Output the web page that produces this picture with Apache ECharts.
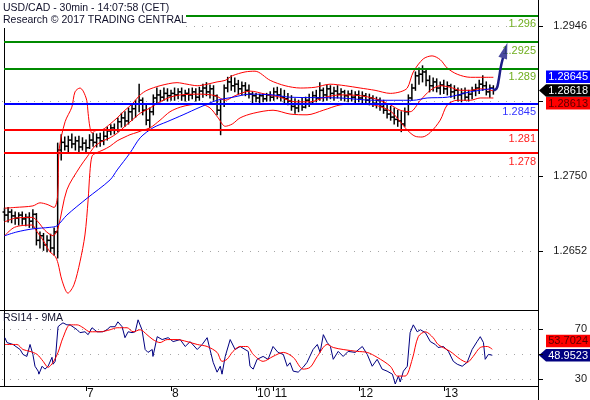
<!DOCTYPE html>
<html><head><meta charset="utf-8">
<script src="https://cdn.jsdelivr.net/npm/echarts@6/dist/echarts.min.js"></script>
<style>html,body{margin:0;padding:0;background:#fff;}#c{width:590px;height:400px;}</style>
</head><body><div id="c"></div>
<script>
// ---- data (hourly bars; x = hours since first bar) ----
const dayTickHours = [23, 47, 71, 76, 100, 124];
const dayTickLabels = ['7', '8', '10', '11', '12', '13'];

const barOpen = [
1.2703,1.2699,1.2703,1.2698,1.2695,1.2699,1.2694,1.2696,1.2691,1.2700,
1.2666,1.2672,1.2660,1.2666,1.2656,1.2677,1.2784,1.2794,1.2789,1.2797,
1.2792,1.2796,1.2788,1.2793,1.2787,1.2797,1.2794,1.2800,1.2796,1.2802,
1.2809,1.2813,1.2810,1.2821,1.2826,1.2822,1.2834,1.2838,1.2844,1.2849,
1.2836,1.2823,1.2834,1.2852,1.2856,1.2853,1.2858,1.2855,1.2858,1.2856,
1.2860,1.2855,1.2858,1.2856,1.2860,1.2853,1.2861,1.2865,1.2860,1.2864,
1.2855,1.2836,1.2844,1.2865,1.2873,1.2868,1.2870,1.2864,1.2868,1.2862,
1.2857,1.2855,1.2852,1.2855,1.2851,1.2856,1.2853,1.2860,1.2856,1.2853,
1.2851,1.2848,1.2841,1.2839,1.2844,1.2840,1.2849,1.2845,1.2855,1.2852,
1.2862,1.2856,1.2864,1.2858,1.2861,1.2857,1.2860,1.2855,1.2857,1.2853,
1.2856,1.2852,1.2855,1.2849,1.2852,1.2845,1.2849,1.2841,1.2836,1.2831,
1.2827,1.2824,1.2822,1.2818,1.2834,1.2852,1.2865,1.2881,1.2883,1.2886,
1.2875,1.2868,1.2873,1.2865,1.2869,1.2864,1.2868,1.2860,1.2862,1.2856,
1.2858,1.2853,1.2857,1.2862,1.2865,1.2870,1.2868,1.2860,1.2865];
const barHigh = [
1.2708,1.2709,1.2706,1.2703,1.2702,1.2703,1.2700,1.2702,1.2706,1.2701,
1.2677,1.2675,1.2672,1.2674,1.2682,1.2793,1.2804,1.2801,1.2802,1.2805,
1.2801,1.2802,1.2800,1.2797,1.2804,1.2806,1.2805,1.2806,1.2808,1.2814,
1.2817,1.2818,1.2826,1.2832,1.2834,1.2839,1.2843,1.2849,1.2870,1.2852,
1.2843,1.2839,1.2856,1.2865,1.2862,1.2865,1.2864,1.2862,1.2865,1.2864,
1.2865,1.2862,1.2864,1.2865,1.2864,1.2866,1.2870,1.2872,1.2869,1.2868,
1.2856,1.2849,1.2869,1.2879,1.2881,1.2878,1.2875,1.2873,1.2872,1.2869,
1.2860,1.2858,1.2857,1.2857,1.2858,1.2860,1.2865,1.2866,1.2864,1.2862,
1.2858,1.2855,1.2851,1.2849,1.2852,1.2853,1.2857,1.2860,1.2862,1.2872,
1.2865,1.2869,1.2868,1.2866,1.2868,1.2864,1.2862,1.2861,1.2862,1.2860,
1.2861,1.2860,1.2858,1.2857,1.2855,1.2853,1.2852,1.2849,1.2844,1.2841,
1.2839,1.2836,1.2834,1.2839,1.2856,1.2870,1.2886,1.2891,1.2894,1.2889,
1.2881,1.2878,1.2877,1.2873,1.2875,1.2873,1.2870,1.2868,1.2865,1.2864,
1.2865,1.2862,1.2866,1.2870,1.2875,1.2881,1.2873,1.2869,1.2868];
const barLow = [
1.2692,1.2690,1.2689,1.2687,1.2686,1.2687,1.2685,1.2683,1.2682,1.2660,
1.2656,1.2653,1.2651,1.2651,1.2647,1.2643,1.2771,1.2784,1.2781,1.2787,
1.2784,1.2781,1.2784,1.2781,1.2786,1.2789,1.2788,1.2789,1.2791,1.2797,
1.2804,1.2805,1.2808,1.2814,1.2815,1.2818,1.2823,1.2827,1.2834,1.2830,
1.2817,1.2813,1.2830,1.2844,1.2847,1.2849,1.2848,1.2849,1.2849,1.2851,
1.2849,1.2848,1.2849,1.2851,1.2848,1.2849,1.2853,1.2855,1.2852,1.2849,
1.2830,1.2804,1.2841,1.2860,1.2862,1.2860,1.2857,1.2856,1.2855,1.2852,
1.2845,1.2847,1.2845,1.2847,1.2848,1.2848,1.2849,1.2851,1.2848,1.2845,
1.2843,1.2836,1.2832,1.2834,1.2836,1.2839,1.2841,1.2844,1.2847,1.2849,
1.2848,1.2849,1.2851,1.2849,1.2852,1.2849,1.2848,1.2847,1.2848,1.2845,
1.2847,1.2845,1.2844,1.2843,1.2841,1.2839,1.2836,1.2832,1.2826,1.2823,
1.2818,1.2815,1.2808,1.2815,1.2830,1.2849,1.2862,1.2870,1.2873,1.2868,
1.2860,1.2861,1.2860,1.2857,1.2858,1.2856,1.2853,1.2851,1.2848,1.2847,
1.2849,1.2848,1.2851,1.2855,1.2858,1.2862,1.2856,1.2853,1.2857];
const barClose = [
1.2699,1.2703,1.2698,1.2695,1.2699,1.2694,1.2696,1.2691,1.2700,1.2666,
1.2672,1.2660,1.2666,1.2656,1.2677,1.2784,1.2794,1.2789,1.2797,1.2792,
1.2796,1.2788,1.2793,1.2787,1.2797,1.2794,1.2800,1.2796,1.2802,1.2809,
1.2813,1.2810,1.2821,1.2826,1.2822,1.2834,1.2838,1.2844,1.2849,1.2836,
1.2823,1.2834,1.2852,1.2856,1.2853,1.2858,1.2855,1.2858,1.2856,1.2860,
1.2855,1.2858,1.2856,1.2860,1.2853,1.2861,1.2865,1.2860,1.2864,1.2855,
1.2836,1.2844,1.2865,1.2873,1.2868,1.2870,1.2864,1.2868,1.2862,1.2857,
1.2855,1.2852,1.2855,1.2851,1.2856,1.2853,1.2860,1.2856,1.2853,1.2851,
1.2848,1.2841,1.2839,1.2844,1.2840,1.2849,1.2845,1.2855,1.2852,1.2862,
1.2856,1.2864,1.2858,1.2861,1.2857,1.2860,1.2855,1.2857,1.2853,1.2856,
1.2852,1.2855,1.2849,1.2852,1.2845,1.2849,1.2841,1.2836,1.2831,1.2827,
1.2824,1.2822,1.2818,1.2834,1.2852,1.2865,1.2881,1.2883,1.2886,1.2875,
1.2868,1.2873,1.2865,1.2869,1.2864,1.2868,1.2860,1.2862,1.2856,1.2858,
1.2853,1.2857,1.2862,1.2865,1.2870,1.2868,1.2860,1.2865,1.28618];

// Bollinger bands and moving average, read as [hour, price]
const bbUpper = [[0,1.2708],[3,1.2709],[8,1.2711],[10,1.2715],[12,1.2713],[14,1.2709],[15,1.2725],[15.4,1.2784],[17.1,1.2821],[19,1.2840],[19.9,1.2860],[21.3,1.2865],[22.2,1.2861],[23.2,1.2849],[23.6,1.2832],[24.1,1.2814],[24.7,1.2806],[25.5,1.2809],[27.8,1.2811],[29.8,1.2818],[31.8,1.2826],[34,1.2836],[36,1.2844],[38.3,1.2856],[40.2,1.2862],[43.9,1.2868],[48.7,1.2872],[51.5,1.2870],[54.4,1.2868],[57.2,1.2870],[60,1.2873],[62.3,1.2875],[64.3,1.2881],[67.9,1.2886],[70.7,1.2887],[75,1.2875],[79.2,1.2868],[83.5,1.2865],[87.7,1.2866],[91.9,1.2870],[96.2,1.2868],[100.4,1.2865],[104.6,1.2862],[108.9,1.2858],[111.7,1.2860],[113.7,1.2865],[115.4,1.2886],[118.2,1.2903],[120.7,1.2907],[123,1.2902],[125,1.2891],[127.8,1.2883],[131.5,1.2879],[134.3,1.2879],[138,1.2879]];
const bbMiddle = [[0,1.2690],[3,1.2695],[7.8,1.2696],[9.5,1.2690],[11.4,1.2679],[13.7,1.2672],[15.1,1.2682],[17.6,1.2732],[21.3,1.2762],[23.3,1.2775],[25.5,1.2789],[27.8,1.2796],[29.8,1.2800],[31.8,1.2806],[34,1.2815],[36,1.2823],[38.3,1.2832],[41.1,1.2839],[43.9,1.2847],[46.7,1.2853],[49.6,1.2856],[55.2,1.2857],[59.5,1.2855],[62.3,1.2849],[65.1,1.2855],[69.3,1.2861],[73.6,1.2857],[77.8,1.2853],[82,1.2847],[86.3,1.2847],[90.5,1.2853],[94.8,1.2856],[100.4,1.2855],[104.6,1.2851],[108.9,1.2843],[111.7,1.2836],[114.5,1.2834],[117.4,1.2849],[120.2,1.2862],[123,1.2868],[125.8,1.2866],[128.7,1.2862],[131.5,1.2862],[134.3,1.2864],[138,1.28613]];
const bbLower = [[0,1.2672],[2.4,1.2682],[4.4,1.2685],[7.8,1.2686],[8.9,1.2679],[10.9,1.2666],[12.8,1.2651],[14.3,1.2645],[15.1,1.2636],[16.2,1.2614],[17.9,1.2597],[19.6,1.2608],[21.3,1.2638],[22.7,1.2673],[23.6,1.2719],[24.1,1.2755],[24.7,1.2776],[25.8,1.2780],[27.8,1.2784],[29.8,1.2789],[31.8,1.2796],[34,1.2801],[35.4,1.2804],[37.4,1.2807],[39.1,1.2810],[41.1,1.2813],[43.9,1.2823],[46.7,1.2834],[49.6,1.2840],[52.4,1.2843],[55.2,1.2844],[58,1.2839],[60.3,1.2826],[62.3,1.2815],[64.3,1.2818],[66.5,1.2826],[70.2,1.2832],[75.8,1.2836],[80.6,1.2831],[85.4,1.2830],[90,1.2836],[94.8,1.2843],[99,1.2844],[104.1,1.2843],[108.9,1.2835],[111.7,1.2821],[113.7,1.2810],[115.9,1.2802],[117.9,1.2801],[120.2,1.2807],[123,1.2823],[125,1.2843],[127.8,1.2849],[131.5,1.2849],[134.3,1.2852],[138,1.2852]];
const maBlue = [[0,1.2672],[3.5,1.2677],[8,1.2681],[12.8,1.2683],[14.8,1.2685],[17.6,1.2699],[23.3,1.2721],[29.8,1.2745],[31.8,1.2758],[35.4,1.2780],[38.3,1.2800],[41.9,1.2813],[45.9,1.2821],[50.4,1.2830],[55.2,1.2840],[60,1.2849],[64.5,1.2853],[69.3,1.2857],[75.8,1.2856],[80.6,1.2853],[94.8,1.2852],[104.1,1.2849],[115.4,1.2849],[119.3,1.2852],[125,1.2853],[131.5,1.2860],[138,1.28645]];

// RSI(14) and its 9-period MA, read as [hour, value]
const rsi14 = [[0.1,62.9],[0.7,59.0],[2.4,57.5],[4.4,53.5],[5.2,49.6],[6.3,48.0],[7.2,57.5],[8.0,49.6],[8.6,40.2],[9.5,36.3],[9.7,33.9],[10.6,40.2],[11.4,37.9],[12.3,40.2],[13.4,47.3],[13.7,41.8],[14.3,44.1],[15.1,71.6],[15.7,73.1],[16.5,74.7],[17.6,73.1],[18.5,73.1],[20.5,69.2],[21.3,66.9],[22.7,67.6],[23.6,65.3],[24.7,70.8],[26.1,67.6],[27.8,67.6],[28.9,69.2],[29.8,71.6],[31.2,71.6],[32.0,75.5],[33.2,71.6],[34.0,62.9],[34.9,67.6],[36.0,66.9],[36.9,67.6],[37.7,77.1],[38.8,69.2],[39.7,53.5],[40.5,51.2],[41.7,53.5],[41.9,48.0],[43.1,63.7],[44.5,61.4],[46.2,62.9],[47.6,59.8],[49.6,61.4],[51.0,55.9],[52.4,59.8],[54.4,53.5],[55.8,57.5],[57.2,62.9],[58.0,53.5],[58.9,43.3],[60.0,35.5],[60.9,40.2],[61.4,33.9],[62.3,48.0],[63.7,61.4],[65.1,53.5],[66.5,55.9],[68.8,52.0],[69.3,40.2],[70.2,37.9],[71.3,45.7],[73.0,48.0],[74.4,45.7],[75.8,55.9],[77.2,51.2],[78.7,49.6],[79.8,40.2],[80.6,43.0],[81.5,36.3],[82.9,35.5],[84.3,39.4],[85.4,43.3],[87.1,53.5],[88.3,57.5],[89.1,51.2],[90.0,65.3],[91.1,59.0],[92.0,55.9],[92.8,45.7],[94.2,52.0],[95.6,48.0],[97.0,52.0],[99.0,51.2],[101.0,55.9],[102.4,49.6],[103.8,40.2],[105.2,45.7],[106.6,37.9],[108.0,36.3],[109.5,33.9],[110.3,26.1],[111.2,32.4],[111.7,27.7],[112.6,36.3],[113.7,40.2],[114.5,66.9],[115.4,73.1],[116.5,67.6],[117.4,69.2],[118.8,66.9],[120.2,59.8],[121.6,57.5],[122.4,55.1],[123.9,55.9],[125.3,52.0],[126.7,44.1],[127.8,41.8],[129.2,40.2],[130.6,43.3],[132.0,53.5],[133.4,59.8],[134.3,63.7],[135.2,59.0],[135.7,45.7],[136.6,49.6],[137.7,48.9523]];
const rsiMA9 = [[0.1,57.5],[3.5,57.5],[5.2,53.5],[7.2,52.0],[9.2,49.6],[10.9,44.1],[12.3,39.4],[13.7,43.3],[15.1,51.2],[16.5,62.9],[18.5,73.1],[20.5,73.1],[22.2,70.8],[24.1,67.6],[27.0,67.6],[29.8,69.2],[31.8,70.8],[34.6,70.8],[36.3,67.6],[38.3,69.2],[40.2,65.3],[41.9,61.4],[43.9,59.0],[45.9,61.4],[48.7,61.4],[51.5,59.8],[54.4,57.5],[57.2,55.9],[60.0,51.2],[61.4,44.1],[62.8,45.7],[64.5,52.0],[66.5,55.9],[68.5,55.9],[70.2,49.6],[73.0,44.1],[75.8,48.0],[78.7,51.2],[81.5,47.3],[84.3,37.9],[86.3,39.4],[88.3,48.0],[91.1,57.5],[92.8,55.1],[95.6,53.5],[99.6,52.0],[102.4,51.2],[105.2,47.3],[108.9,40.2],[110.9,32.4],[113.1,32.4],[115.1,45.7],[116.8,63.7],[118.8,67.6],[121.0,62.9],[122.4,57.5],[125.8,52.0],[128.7,45.7],[130.6,43.3],[132.3,48.0],[134.3,55.1],[136.3,55.9],[137.7,53.7024]];

// support / resistance levels
const levels = [1.296, 1.2925, 1.289, 1.2845, 1.281, 1.278];
const levelLabels = ['1.296', '1.2925', '1.289', '1.2845', '1.281', '1.278'];
const levelKinds = ['g', 'g', 'g', 'b', 'r', 'r'];

// projected path arrow [hour, price]
const arrowPath = [[137.9,1.28624],[138.9,1.28643],[139.5,1.28754],[140.1,1.28924],[140.7,1.29042]];
const arrowHead = [[141.3,1.2914]];

const priceTicks = [1.2652, 1.2750, 1.2848, 1.2946];
const priceLabels = [1.2652, 1.2750, 1.2946];
const rsiTicks = [30, 50, 70];
const rsiLabels = [30, 70];

const lastPrice = 1.28618, lastMA = 1.28645, lastMid = 1.28613;
const lastRsi = 48.9523, lastRsiMA = 53.7024;

// ---- chart ----
const FONT = 'Liberation Sans, Arial, sans-serif';
const xMin = -1.28, xMax = 150.6, xStart = -0.15;
const chart = echarts.init(document.getElementById('c'), null, {renderer: 'canvas'});

const levelColors = {g: ['#008a00', '#6fae1e'], b: ['#0000ff', '#3535ff'], r: ['#ff0000', '#ff2020']};

function renderOHLC(params, api) {
  const x = api.value(0);
  const o = api.coord([x, api.value(1)]);
  const h = api.coord([x, api.value(2)]);
  const l = api.coord([x, api.value(3)]);
  const c = api.coord([x, api.value(4)]);
  const style = {stroke: '#000', lineWidth: 1.5};
  return {type: 'group', children: [
    {type: 'line', shape: {x1: h[0], y1: h[1] - 0.5, x2: l[0], y2: l[1] + 0.5}, style},
    {type: 'line', shape: {x1: o[0] - 2, y1: o[1], x2: o[0], y2: o[1]}, style},
    {type: 'line', shape: {x1: c[0], y1: c[1], x2: c[0] + 2, y2: c[1]}, style}
  ]};
}

// dotted horizontal grid line at a tick value (dots every 8 px) plus the outer tick mark
function renderDots(params, api) {
  const y = Math.round(api.coord([xMin, api.value(0)])[1]);
  const cs = params.coordSys;
  const children = [];
  for (let px = cs.x + 2; px < cs.x + cs.width - 2; px += 8) {
    children.push({type: 'rect', shape: {x: px, y: y, width: 1, height: 1}, style: {fill: '#a6a6a6'}});
  }
  children.push({type: 'rect', shape: {x: cs.x + cs.width, y: y, width: 5, height: 1}, style: {fill: '#000'}});
  return {type: 'group', children};
}

const option = {
  animation: false,
  backgroundColor: '#fff',
  textStyle: {fontFamily: FONT},
  grid: [
    {left: 0, width: 538, top: 0, height: 310},
    {left: 0, width: 538, top: 310, height: 77}
  ],
  xAxis: [
    {gridIndex: 0, type: 'value', min: xMin, max: xMax,
     axisLine: {show: true, onZero: false, lineStyle: {color: '#000', width: 1}},
     axisTick: {show: false}, axisLabel: {show: false}, splitLine: {show: false}},
    {gridIndex: 1, type: 'value', min: xMin, max: xMax,
     axisLine: {show: true, onZero: false, lineStyle: {color: '#000', width: 1}},
     axisTick: {show: true, customValues: dayTickHours, length: 5, lineStyle: {color: '#000'}},
     axisLabel: {show: true, customValues: dayTickHours, align: 'left', margin: 2,
       padding: [0, 0, 0, 1], fontSize: 12, color: '#111', fontFamily: FONT,
       formatter: v => { const i = dayTickHours.indexOf(v); return i >= 0 ? dayTickLabels[i] : ''; }},
     splitLine: {show: false}}
  ],
  yAxis: [
    {gridIndex: 0, type: 'value', position: 'right', min: 1.2575, max: 1.2980,
     axisLine: {show: true, lineStyle: {color: '#000'}},
     axisTick: {show: false},
     axisLabel: {show: true, customValues: priceLabels, align: 'right', margin: 49, fontSize: 11,
       color: '#1a1a1a', fontFamily: FONT, formatter: v => v.toFixed(4)},
     splitLine: {show: false}},
    {gridIndex: 1, type: 'value', position: 'right', min: 24.5, max: 84.9,
     axisLine: {show: true, lineStyle: {color: '#000'}},
     axisTick: {show: false},
     axisLabel: {show: true, customValues: rsiLabels, align: 'right', margin: 49, fontSize: 11,
       color: '#1a1a1a', fontFamily: FONT, formatter: v => String(v)},
     splitLine: {show: false}}
  ],
  series: [
    {name: 'priceGrid', type: 'custom', xAxisIndex: 0, yAxisIndex: 0, renderItem: renderDots, z: 1,
     silent: true, clip: false, encode: {y: 0}, data: priceTicks.map(v => [v])},
    {name: 'rsiGrid', type: 'custom', xAxisIndex: 1, yAxisIndex: 1, renderItem: renderDots, z: 1,
     silent: true, clip: false, encode: {y: 0}, data: rsiTicks.map(v => [v])},
    {name: 'ohlc', type: 'custom', xAxisIndex: 0, yAxisIndex: 0, renderItem: renderOHLC, z: 2,
     encode: {x: 0, y: [1, 2, 3, 4]}, silent: true,
     data: barOpen.map((o, i) => [i, o, barHigh[i], barLow[i], barClose[i]])},
    {name: 'bbU', type: 'line', data: bbUpper, showSymbol: false, smooth: 0.3, z: 3, silent: true,
     lineStyle: {color: '#ff0000', width: 1}},
    {name: 'bbM', type: 'line', data: bbMiddle, showSymbol: false, smooth: 0.3, z: 3, silent: true,
     lineStyle: {color: '#ff0000', width: 1}},
    {name: 'bbL', type: 'line', data: bbLower, showSymbol: false, smooth: 0.3, z: 3, silent: true,
     lineStyle: {color: '#ff0000', width: 1}},
    {name: 'ma', type: 'line', data: maBlue, showSymbol: false, smooth: 0.3, z: 3, silent: true,
     lineStyle: {color: '#0000ff', width: 1},
     markLine: {silent: true, symbol: ['none', 'none'], animation: false, z: 5,
       data: levels.map((v, i) => [
         {coord: [xStart, v],
          lineStyle: {color: levelColors[levelKinds[i]][0], width: 2, type: 'solid'},
          label: {show: true, position: 'insideEndBottom', formatter: levelLabels[i], distance: [2, 3],
            color: levelColors[levelKinds[i]][1], fontSize: 11, fontFamily: FONT}},
         {coord: [xMax, v]}
       ])}},
    {name: 'arrow', type: 'line', data: arrowPath, showSymbol: false, smooth: 0.4, z: 6, silent: true,
     lineStyle: {color: '#1c1c86', width: 2.5}},
    {name: 'arrowHead', type: 'scatter', data: arrowHead, symbol: 'triangle', symbolSize: [9, 16],
     symbolRotate: -17, z: 6, silent: true, itemStyle: {color: '#1c1c86'}},
    {name: 'rsi', type: 'line', xAxisIndex: 1, yAxisIndex: 1, data: rsi14, showSymbol: false, z: 3,
     silent: true, lineStyle: {color: '#000080', width: 1}},
    {name: 'rsiMA', type: 'line', xAxisIndex: 1, yAxisIndex: 1, data: rsiMA9, showSymbol: false,
     smooth: 0.3, z: 3, silent: true, lineStyle: {color: '#ff0000', width: 1}}
  ]
};
chart.setOption(option);

// ---- annotations (titles, last-value tags) ----
const yP = chart.convertToPixel({yAxisIndex: 0}, lastPrice);
const yR = chart.convertToPixel({yAxisIndex: 1}, lastRsi);
const axX = chart.convertToPixel({xAxisIndex: 0}, xMax);

function box(y, fill, text, color) {
  return {type: 'group', children: [
    {type: 'rect', shape: {x: axX + 8, y: y, width: 590 - axX - 8, height: 12.5}, style: {fill}},
    {type: 'text', x: 588, y: y + 6.5, style: {text, fill: color, font: '11px ' + FONT,
      textAlign: 'right', textVerticalAlign: 'middle'}}
  ]};
}
function arrowTag(y, fill, text, color) {
  return {type: 'group', children: [
    {type: 'polygon', shape: {points: [[axX + 1, y], [axX + 8, y - 6.2], [590, y - 6.2], [590, y + 6.2], [axX + 8, y + 6.2]]},
     style: {fill}},
    {type: 'text', x: 588, y: y + 0.5, style: {text, fill: color, font: '11px ' + FONT,
      textAlign: 'right', textVerticalAlign: 'middle'}}
  ]};
}

chart.setOption({
  graphic: [
    {type: 'rect', shape: {x: 0, y: 0, width: 186, height: 28}, style: {fill: '#ffffff'}, z: 100},
    {type: 'text', left: 3, top: 3, z: 101, style: {text: 'USD/CAD - 30min - 14:07:58 (CET)', fill: '#10102a', font: '10.5px ' + FONT}},
    {type: 'text', left: 3, top: 15, z: 101, style: {text: 'Research \u00a9 2017 TRADING CENTRAL', fill: '#10102a', font: '10.5px ' + FONT}},
    {type: 'text', left: 3, top: 313, z: 101, style: {text: 'RSI14 - 9MA', fill: '#10102a', font: '10.5px ' + FONT}},
    {type: 'line', shape: {x1: axX + 0.5, y1: 0, x2: axX + 0.5, y2: 400}, style: {stroke: '#000', lineWidth: 1}},
    box(yP - 20, '#0000ff', lastMA.toFixed(5), '#ffffff'),
    arrowTag(yP, '#000000', lastPrice.toFixed(5), '#ffffff'),
    box(yP + 6.6, '#ff0000', lastMid.toFixed(5), '#5a0000'),
    box(yR - 20.5, '#ff0000', lastRsiMA.toFixed(4), '#5a0000'),
    arrowTag(yR, '#000080', lastRsi.toFixed(4), '#ffffff')
  ]
});
</script>
</body></html>
